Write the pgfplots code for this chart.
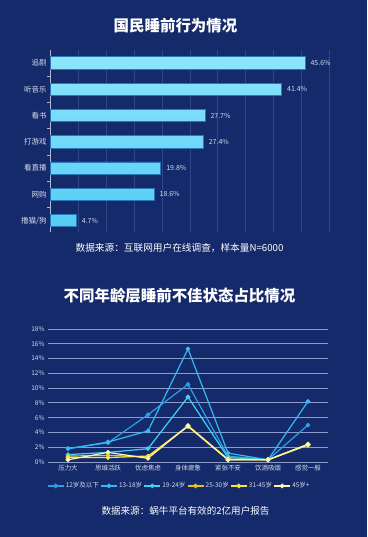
\documentclass[border=0pt]{standalone}
\usepackage{fontspec}
\setmainfont{Noto Sans CJK SC}
\usepackage{pgfplots}
\pgfplotsset{compat=1.18}
\pgfkeys{/pgf/number format/assume math mode=true}
\definecolor{bg}{HTML}{152A6A}
\definecolor{gridA}{HTML}{2E4688}
\definecolor{gridB}{HTML}{8E9CC8}
\definecolor{lab}{HTML}{D4DBEE}
\definecolor{barTop}{HTML}{8CE5FC}
\definecolor{barBot}{HTML}{55CCF4}
\definecolor{barEdge}{HTML}{2A78B8}
\definecolor{cA}{HTML}{2F9CE8}
\definecolor{cB}{HTML}{36B9F0}
\definecolor{cC}{HTML}{3FD2F7}
\definecolor{cD}{HTML}{E8C21A}
\definecolor{cE}{HTML}{F6E63A}
\definecolor{cF}{HTML}{FCF6B2}
\begin{document}
\begin{tikzpicture}[x=1bp,y=1bp]
\useasboundingbox (0,0) rectangle (367,537);
\fill[bg] (0,0) rectangle (367,537);
\node[text=white,font=\fontsize{15.5}{17}\selectfont\bfseries] at (175.5,511) {国民睡前行为情况};
\node[text=white,font=\fontsize{9.7}{11}\selectfont] at (179.5,289) {数据来源：互联网用户在线调查，样本量N=6000};
\node[text=white,font=\fontsize{15.5}{17}\selectfont\bfseries] at (179.5,241) {不同年龄层睡前不佳状态占比情况};
\node[text=white,font=\fontsize{9.6}{11}\selectfont] at (185.5,26) {数据来源：蜗牛平台有效的2亿用户报告};

\begin{axis}[
  at={(50bp,305.3bp)}, anchor=south west, scale only axis,
  width=279.6bp, height=181.7bp,
  xbar, bar width=12.3bp,
  xmin=0, xmax=50, ymin=-0.49, ymax=6.42, y dir=reverse,
  ytick={0,...,6},
  yticklabels={追剧,听音乐,看书,打游戏,看直播,网购,撸猫/狗},
  minor ytick={0.5,1.5,...,6.5},
  xtick={0,5,...,50}, xticklabels={},
  xmajorgrids, grid style={color=gridA, line width=0.6bp},
  axis x line*=bottom, axis y line*=left,
  x axis line style={draw=none},
  y axis line style={draw=lab!80!bg, line width=0.6bp},
  major tick length=0pt, minor tick length=3bp, tick align=outside,
  minor tick style={draw=lab!80!bg, line width=0.6bp},
  major x tick style={draw=none},
  yticklabel style={font=\fontsize{7.5}{8}\selectfont, text=lab},
  point meta=x,
  nodes near coords={\pgfmathprintnumber[fixed,fixed zerofill,precision=1,assume math mode=true]{\pgfplotspointmeta}\%},
  nodes near coords style={font=\fontsize{7}{8}\selectfont, text=lab, anchor=west, xshift=2bp},
  clip=false,
]
\addplot[draw=barEdge, line width=0.6bp, top color=barTop, bottom color=barBot]
  coordinates {(45.6,0) (41.4,1) (27.7,2) (27.4,3) (19.8,4) (18.6,5) (4.7,6)};
\end{axis}

\begin{axis}[
  at={(48bp,75bp)}, anchor=south west, scale only axis,
  width=280bp, height=133bp,
  xmin=-0.5, xmax=6.5, ymin=0, ymax=18,
  ytick={0,2,...,18},
  yticklabel={\pgfmathprintnumber{\tick}\%},
  /pgf/number format/assume math mode=true,
  xtick={0,...,6},
  xticklabels={压力大,思维活跃,忧虑焦虑,身体疲惫,紧张不安,饮酒吸烟,感觉一般},
  ymajorgrids, grid style={color=gridB, line width=0.9bp},
  axis line style={draw=none}, tick style={draw=none},
  yticklabel style={font=\fontsize{6.5}{7}\selectfont, text=lab},
  xticklabel style={font=\fontsize{6.5}{7}\selectfont, text=lab},
  legend columns=6,
  legend style={at={(0.468,-0.18)}, anchor=center, draw=none, fill=none,
    text=lab, font=\fontsize{6.5}{7}\selectfont, inner sep=0pt,
    nodes={inner xsep=1.5bp},
    /tikz/every even column/.append style={column sep=0bp}},
  legend image code/.code={
    \draw[mark repeat=2,mark phase=2] plot coordinates {(0bp,0bp) (8bp,0bp) (16bp,0bp)};},
  every axis plot/.append style={line width=1.2bp, mark=*, mark size=1.7bp},
  clip=false,
]
\addplot[color=cA, mark options={fill=cA}] coordinates {(0,1.8) (1,2.6) (2,6.4) (3,10.5) (4,0.8) (5,0.3) (6,5.0)};
\addplot[color=cB, mark options={fill=cB}] coordinates {(0,1.8) (1,2.7) (2,4.2) (3,15.3) (4,1.2) (5,0.3) (6,8.2)};
\addplot[color=cC, mark options={fill=cC}] coordinates {(0,1.0) (1,1.3) (2,1.8) (3,8.8) (4,0.6) (5,0.3) (6,2.3)};
\addplot[color=cD, mark options={fill=cD}] coordinates {(0,0.8) (1,0.9) (2,0.7) (3,4.9) (4,0.4) (5,0.3) (6,2.4)};
\addplot[color=cE, mark options={fill=cE}] coordinates {(0,0.6) (1,0.6) (2,0.8) (3,4.8) (4,0.3) (5,0.3) (6,2.3)};
\addplot[color=cF, mark options={fill=cF}] coordinates {(0,0.3) (1,1.3) (2,0.5) (3,4.9) (4,0.3) (5,0.3) (6,2.4)};
\legend{12岁及以下,13-18岁,19-24岁,25-30岁,31-45岁,45岁+}
\end{axis}
\end{tikzpicture}
\end{document}
